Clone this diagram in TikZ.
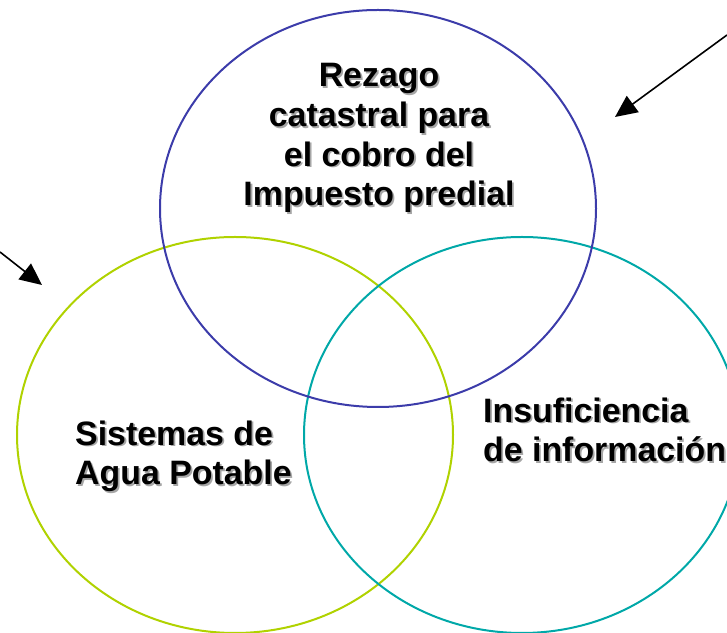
\documentclass[tikz,border=0pt]{standalone}
\usepackage{fontspec}
\setmainfont{Liberation Sans}
\usetikzlibrary{arrows.meta}

\definecolor{setblue}{RGB}{60,60,170}
\definecolor{setgreen}{RGB}{176,210,0}
\definecolor{setteal}{RGB}{0,168,168}

% text with a soft gray drop shadow
\newcommand{\shadowed}[1]{\makebox[0pt][l]{\kern1.8pt\raisebox{-1.8pt}{\color{black!35}#1}}#1}

\begin{document}
\begin{tikzpicture}[x=1bp,y=1bp,>={Triangle[length=22bp,width=20bp]},
  set line/.style={line width=2bp},
  set label/.style={font=\bfseries\fontsize{34}{40}\selectfont,inner sep=0pt}]

  \useasboundingbox (0,0) rectangle (727,633);
  \clip (0,0) rectangle (727,633);

  \draw[set line,setgreen] (235,198) ellipse [x radius=218, y radius=198];
  \draw[set line,setteal]  (522,198) ellipse [x radius=218, y radius=198];
  \draw[set line,setblue]  (378,424.5) ellipse [x radius=218, y radius=198.5];

  % base anchor sits on the last line
  \node[set label,align=center,anchor=base] (rezago) at (379,427)
    {\shadowed{Rezago}\\ \shadowed{catastral para}\\ \shadowed{el cobro del}\\ \shadowed{Impuesto predial}};
  \node[set label,align=left,anchor=base west] (agua) at (75,148)
    {\shadowed{Sistemas de}\\ \shadowed{Agua Potable}};
  \node[set label,align=left,anchor=base west] (info) at (483,171)
    {\shadowed{Insuficiencia}\\ \shadowed{de información}};

  \coordinate (from right) at (727,598);
  \coordinate (to right) at (615,516);
  \coordinate (from left) at (0,381);
  \coordinate (to left) at (42,348);
  \draw[->,line width=1.6bp] (from right) -- (to right);
  \draw[->,line width=1.6bp] (from left) -- (to left);

\end{tikzpicture}
\end{document}
